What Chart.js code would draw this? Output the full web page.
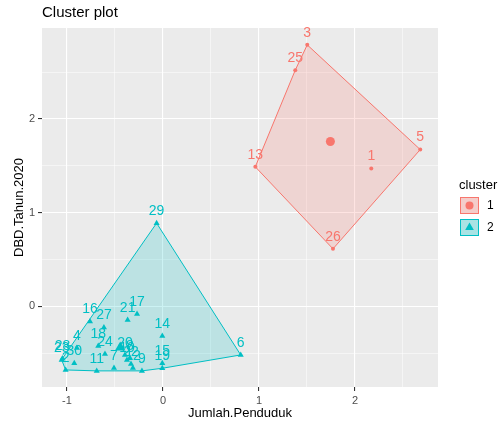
<!DOCTYPE html>
<html><head><meta charset="utf-8">
<script src="https://cdn.jsdelivr.net/npm/chart.js@4/dist/chart.umd.min.js"></script>
<style>html,body{margin:0;padding:0;background:#fff}#wrap{width:498px;height:423px;position:relative}</style>
</head><body><div id="wrap"><canvas id="c" width="498" height="423"></canvas></div>
<script>
// ---- data ----
const cluster1Labels = ['1','3','5','13','25','26'];
const cluster1X = [2.17, 1.503, 2.68, 0.962, 1.378, 1.771];
const cluster1Y = [1.47, 2.79, 1.673, 1.489, 2.52, 0.614];

const cluster2Labels = ['2','4','6','7','8','9','10','11','12','14','15','16','17','18','19','20','21','22','23','24','27','28','29','30'];
const cluster2X = [-1.014,-0.896,0.81,-0.51,-0.344,-0.219,-0.375,-0.69,-0.313,-0.007,-0.007,-0.76,-0.27,-0.674,-0.007,-0.396,-0.368,-0.333,-1.055,-0.604,-0.615,-1.047,-0.066,-0.924];
const cluster2Y = [-0.678,-0.443,-0.518,-0.656,-0.55,-0.688,-0.571,-0.688,-0.656,-0.315,-0.606,-0.162,-0.08,-0.422,-0.66,-0.518,-0.144,-0.614,-0.571,-0.507,-0.226,-0.555,0.888,-0.606];

const clusterNames = ['1','2'];
const xTickValues = [-1, 0, 1, 2];
const yTickValues = [0, 1, 2];
const xGridValues = [-1, -0.5, 0, 0.5, 1, 1.5, 2, 2.5];
const yGridValues = [-0.5, 0, 0.5, 1, 1.5, 2, 2.5];

const RED = '#F8766D', CYAN = '#00BFC4';
const FONT = "'Liberation Sans', Arial, sans-serif";

function toPoints(xs, ys){ return xs.map((x,i)=>({x:x, y:ys[i]})); }
function mean(a){ return a.reduce((s,v)=>s+v,0)/a.length; }
function hull(xs, ys){
  const pts = toPoints(xs, ys).sort((a,b)=>a.x-b.x||a.y-b.y);
  const cross=(o,a,b)=>(a.x-o.x)*(b.y-o.y)-(a.y-o.y)*(b.x-o.x);
  const lower=[]; for(const p of pts){ while(lower.length>=2&&cross(lower[lower.length-2],lower[lower.length-1],p)<=0) lower.pop(); lower.push(p); }
  const upper=[]; for(const p of pts.slice().reverse()){ while(upper.length>=2&&cross(upper[upper.length-2],upper[upper.length-1],p)<=0) upper.pop(); upper.push(p); }
  upper.pop(); lower.pop();
  const h = lower.concat(upper); h.push(h[0]); return h;
}

const panelBg = {
  id:'panelBg',
  beforeDraw(chart){
    const {ctx, chartArea:a} = chart;
    ctx.save(); ctx.fillStyle='#EBEBEB'; ctx.fillRect(a.left, a.top, a.right-a.left, a.bottom-a.top); ctx.restore();
  }
};

const pointText = {
  id:'pointText',
  afterDatasetsDraw(chart){
    const ctx = chart.ctx;
    ctx.save();
    ctx.font = '14px ' + FONT; ctx.textAlign='center'; ctx.textBaseline='middle';
    chart.data.datasets.forEach((ds, i)=>{
      if(!ds.textLabels) return;
      const meta = chart.getDatasetMeta(i);
      ctx.fillStyle = ds.textColor;
      meta.data.forEach((el, j)=>{ ctx.fillText(ds.textLabels[j], el.x, el.y - 12); });
    });
    ctx.restore();
  }
};

const extras = {
  id:'extras',
  afterDraw(chart){
    const ctx = chart.ctx;
    ctx.save();
    // title
    ctx.fillStyle='#000'; ctx.font='15px '+FONT; ctx.textAlign='left'; ctx.textBaseline='middle';
    ctx.fillText('Cluster plot', chart.chartArea.left, 13);
    // legend
    ctx.font='13px '+FONT; ctx.fillText('cluster', 459, 185);
    const cols=[RED, CYAN], fills=['rgba(248,118,109,0.3)','rgba(0,191,196,0.3)'];
    clusterNames.forEach((nm,k)=>{
      const y0 = 197 + k*22;
      ctx.fillStyle='#F2F2F2'; ctx.fillRect(460, y0, 19, 17);
      ctx.fillStyle=fills[k]; ctx.fillRect(460, y0, 19, 17);
      ctx.strokeStyle=cols[k]; ctx.lineWidth=1; ctx.strokeRect(460.5, y0+0.5, 18, 16);
      ctx.fillStyle=cols[k];
      const cx=469.5, cy=y0+8.5;
      if(k===0){ ctx.beginPath(); ctx.arc(cx, cy, 4, 0, Math.PI*2); ctx.fill(); }
      else { const r=5; ctx.beginPath(); ctx.moveTo(cx, cy-r); ctx.lineTo(cx+r*0.866, cy+r*0.5); ctx.lineTo(cx-r*0.866, cy+r*0.5); ctx.closePath(); ctx.fill(); }
      ctx.fillStyle='#000'; ctx.font='12px '+FONT; ctx.fillText(nm, 487, cy);
    });
    ctx.restore();
  }
};

const gridWidth = (ticks) => (c) => ticks.includes(c.tick.value) ? 1.1 : 0.5;
const tickCol = (ticks) => (c) => ticks.includes(c.tick.value) ? '#333333' : 'rgba(0,0,0,0)';

new Chart(document.getElementById('c'), {
  type:'scatter',
  data:{ datasets:[
    { label:'c1', data: toPoints(cluster1X, cluster1Y), pointStyle:'circle', pointRadius:2, backgroundColor:RED, borderColor:RED, borderWidth:0, textLabels: cluster1Labels, textColor: RED, order:0 },
    { label:'c2', data: toPoints(cluster2X, cluster2Y), pointStyle:'triangle', pointRadius:3.5, backgroundColor:CYAN, borderColor:CYAN, borderWidth:0, textLabels: cluster2Labels, textColor: CYAN, order:0 },
    { label:'m1', data:[{x:mean(cluster1X), y:mean(cluster1Y)}], pointStyle:'circle', pointRadius:4.5, backgroundColor:RED, borderWidth:0, order:0 },
    { label:'m2', data:[{x:mean(cluster2X), y:mean(cluster2Y)}], pointStyle:'triangle', pointRadius:6, backgroundColor:CYAN, borderWidth:0, order:0 },
    { label:'h1', data: hull(cluster1X, cluster1Y), showLine:true, fill:'shape', pointRadius:0, borderColor:RED, borderWidth:1, backgroundColor:'rgba(248,118,109,0.2)', tension:0, order:1 },
    { label:'h2', data: hull(cluster2X, cluster2Y), showLine:true, fill:'shape', pointRadius:0, borderColor:CYAN, borderWidth:1, backgroundColor:'rgba(0,191,196,0.2)', tension:0, order:1 }
  ]},
  options:{
    responsive:false, animation:false, devicePixelRatio:1,
    layout:{ padding:{ top:28, right:60, left:0, bottom:0 } },
    plugins:{ legend:{display:false}, tooltip:{enabled:false} },
    scales:{
      x:{ type:'linear', min:-1.26, max:2.865,
        afterBuildTicks: s => { s.ticks = xGridValues.map(v=>({value:v})); },
        afterFit: s => { s.height = 36; },
        grid:{ color:'#FFFFFF', lineWidth: gridWidth(xTickValues), tickColor: tickCol(xTickValues), tickLength:4, drawTicks:true },
        border:{ display:false },
        ticks:{ color:'#4D4D4D', font:{ family:FONT, size:11 }, padding:3, maxRotation:0, autoSkip:false,
          callback: v => xTickValues.includes(v) ? String(v) : '' },
        title:{ display:true, text:'Jumlah.Penduduk', color:'#000', font:{ family:FONT, size:13 }, padding:{ top:0, bottom:2 } }
      },
      y:{ type:'linear', min:-0.86, max:2.97,
        afterBuildTicks: s => { s.ticks = yGridValues.map(v=>({value:v})); },
        afterFit: s => { s.width = 42; },
        grid:{ color:'#FFFFFF', lineWidth: gridWidth(yTickValues), tickColor: tickCol(yTickValues), tickLength:4, drawTicks:true },
        border:{ display:false },
        ticks:{ color:'#4D4D4D', font:{ family:FONT, size:11 }, padding:3, autoSkip:false,
          callback: v => yTickValues.includes(v) ? String(v) : '' },
        title:{ display:true, text:'DBD.Tahun.2020', color:'#000', font:{ family:FONT, size:13 }, padding:{ top:12, bottom:0 } }
      }
    }
  },
  plugins:[panelBg, pointText, extras]
});
</script></body></html>
